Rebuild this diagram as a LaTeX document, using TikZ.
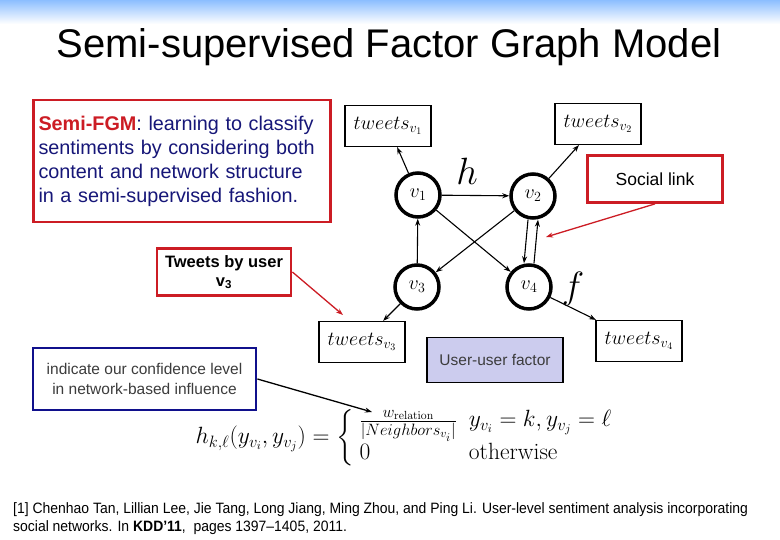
\RequirePackage{fix-cm}
\documentclass[tikz,border=0pt]{standalone}
\usepackage{amsmath,amssymb}
\usepackage[no-math]{fontspec}
\setmainfont{Liberation Sans}
\newfontfamily\narrowfont[FakeStretch=0.93,Ligatures=TeX]{Liberation Sans}
\newfontfamily\lmroman{Latin Modern Roman}
\usepackage{xcolor}
\usepackage{tikz}
\usetikzlibrary{arrows.meta,positioning,calc}

\definecolor{boxred}{RGB}{204,28,36}
\definecolor{navytext}{RGB}{22,22,120}
\definecolor{navyline}{RGB}{16,16,140}
\definecolor{factorfill}{RGB}{204,204,238}
\definecolor{softgray}{RGB}{60,60,60}
\definecolor{barblue}{RGB}{140,190,255}

\begin{document}
\begin{tikzpicture}[
    x=1pt,y=-1pt,
    user/.style={circle,draw,line width=3.5pt,minimum size=44pt,inner sep=0pt,
                 font=\fontsize{20}{22}\selectfont},
    tbox/.style={draw,line width=1.2pt,minimum width=86pt,minimum height=41pt,
                 inner sep=1pt,fill=white,font=\fontsize{20}{22}\selectfont},
    edge/.style={-{Stealth[length=7pt,width=5pt]},line width=1.1pt},
    callout/.style={draw=boxred,line width=2.8pt,fill=white},
    pointer/.style={-{Stealth[length=7pt,width=5pt]},line width=1.3pt},
  ]
  \useasboundingbox (0,0) rectangle (780,540);
  % top bar
  \shade[top color=barblue,bottom color=white] (0,0) rectangle (780,24);

  % title
  \node[font=\fontsize{40}{44}\selectfont] (title) at (389,47) {Semi-supervised Factor Graph Model};

  % description box
  \node[callout,text width=287pt,minimum height=122pt,inner xsep=5pt,align=left,text=navytext,
        font=\fontsize{19.8}{24}\selectfont] (desc) at (182,161)
    {{\color{boxred}\textbf{Semi-FGM}}: learning to classify\\
     sentiments by considering both\\
     content and network structure\\
     in a semi-supervised fashion.};

  % users and their tweets
  \foreach \n/\x/\y in {1/418/195, 2/533/196, 3/417/287, 4/529/287}
    \node[user] (v\n) at (\x,\y) {$v_\n$};
  \foreach \n/\x/\y in {1/388/126, 2/598/124, 3/362/342, 4/639/341}
    \node[tbox] (t\n) at (\x,\y) {$tweets_{v_\n}$};
  \foreach \n in {1,...,4}
    \draw[edge] (v\n) -- (t\n);

  % user-user links
  \draw[edge] (v1) -- (v2);
  \draw[edge] (v1) -- (v4);
  \draw[edge] (v2) -- (v3);
  \draw[edge] (v3) -- (v1);
  \draw[edge] ([xshift=-5pt]v2.south) -- ([xshift=-5pt]v4.north);
  \draw[edge] ([xshift=5pt]v4.north) -- ([xshift=5pt]v2.south);

  % factor labels
  \node[font=\fontsize{38}{42}\selectfont] (hlab) at (467,171) {$h$};
  \node[font=\fontsize{38}{42}\selectfont] (flab) at (573,289) {$f$};

  % social link callout
  \node[callout,minimum width=135pt,minimum height=47pt,font=\fontsize{17.5}{19}\selectfont]
    (social) at (655,179) {Social link};
  \coordinate (socialtip) at (546,237);
  \draw[pointer,boxred] (social.south) -- (socialtip);

  % tweets by user callout
  \node[callout,minimum width=134pt,minimum height=47pt,align=center,inner sep=1pt,
        font=\bfseries\fontsize{16.5}{19}\selectfont] (byuser) at (224,272)
    {Tweets by user\\v\textsubscript{3}};
  \coordinate (byusertip) at (343,315);
  \draw[pointer,boxred] (byuser.east) -- (byusertip);

  % user-user factor
  \node[draw,line width=1.2pt,fill=factorfill,minimum width=136pt,minimum height=45pt,
        text=softgray,font=\fontsize{15.5}{17}\selectfont] (uufactor) at (495,360) {User-user factor};

  % confidence note
  \node[draw=navyline,line width=2.8pt,fill=white,minimum width=223pt,minimum height=62pt,
        align=center,text=softgray,font=\fontsize{15.5}{20}\selectfont] (conf) at (144.5,379)
    {indicate our confidence level\\in network-based influence};
  \coordinate (conftip) at (372,412);
  \draw[pointer] (conf.east) -- (conftip);

  % factor function
  \node[font=\fontsize{23.5}{26}\selectfont] (hfun) at (407,438)
    {$\setlength{\arraycolsep}{6pt}h_{k,\ell}(y_{v_i},y_{v_j}) = \left\{\begin{array}{ll}
       \frac{w_{\mathrm{relation}}}{|Neighbors_{v_i}|} & y_{v_i}=k, y_{v_j}=\ell\\[3pt]
       0 & \text{\lmroman otherwise}
     \end{array}\right.$};

  % reference
  \node[anchor=north west,align=left,inner sep=0pt,
        font=\narrowfont\fontsize{15}{18}\selectfont] (cite) at (13,502)
    {[1] Chenhao Tan, Lillian Lee, Jie Tang, Long Jiang, Ming Zhou, and Ping Li. User-level sentiment analysis incorporating\\
     social networks. In \textbf{KDD’11}, \ pages 1397–1405, 2011.};
\end{tikzpicture}
\end{document}
